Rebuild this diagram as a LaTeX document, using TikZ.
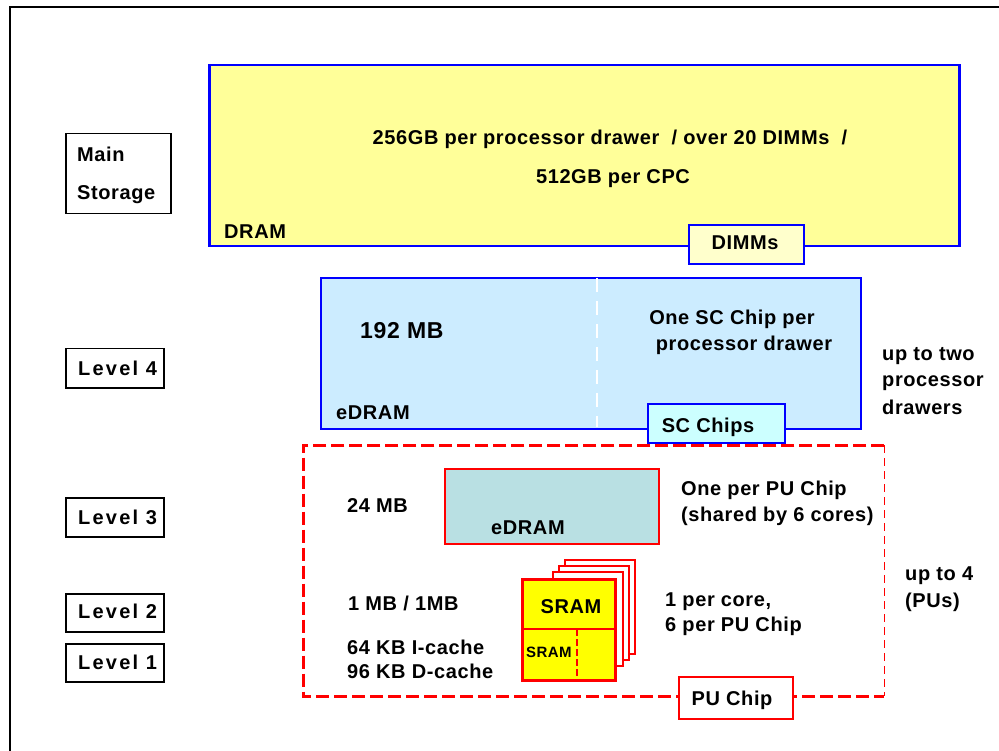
\documentclass[tikz,border=0pt]{standalone}
\usepackage{fontspec}
\setmainfont{Liberation Sans}
\newfontfamily\lsfont{Liberation Sans}[LetterSpace=3]
\newfontfamily\lvfont{Liberation Sans}[LetterSpace=11]
\definecolor{dramfill}{RGB}{255,255,153}
\definecolor{dimmfill}{RGB}{255,255,204}
\definecolor{lfourfill}{RGB}{204,236,255}
\definecolor{scfill}{RGB}{204,255,255}
\definecolor{lthreefill}{RGB}{185,224,227}
\definecolor{sramfill}{RGB}{255,255,0}
\definecolor{bblue}{RGB}{0,0,255}
\definecolor{rred}{RGB}{255,0,0}
\tikzset{
  txt/.style={inner sep=0pt, font=\lsfont\fontsize{20}{24}\selectfont\bfseries},
  lvtxt/.style={inner sep=0pt, font=\lvfont\fontsize{20}{24}\selectfont\bfseries},
  lbl/.style={draw=black, line width=1.5pt, fill=white, inner sep=0pt, anchor=north west},
  bluebox/.style={draw=bblue, line width=2pt, inner sep=0pt, anchor=north west},
  redbox/.style={draw=rred, line width=2pt, inner sep=0pt, anchor=north west},
  page/.style={draw=rred, line width=2pt, fill=white, inner sep=0pt, anchor=north west, minimum width=70pt, minimum height=94pt},
  reddash/.style={draw=rred, line width=3pt, dash pattern=on 13pt off 5pt},
  redthin/.style={draw=rred, line width=1.5pt, dash pattern=on 8pt off 5pt},
}
\begin{document}
\begin{tikzpicture}[x=1pt,y=-1pt]
\useasboundingbox (0,0) rectangle (999,751);
% outer frame
\coordinate (fbl) at (10,751);
\coordinate (ftl) at (10,7);
\coordinate (ftr) at (999,7);
\draw[line width=2pt] (fbl) -- (ftl) -- (ftr);

% left labels
\node[lbl, minimum width=105pt, minimum height=80pt] (ms) at (65,133) {};
\node[lbl, minimum width=98pt, minimum height=39pt] (lv4) at (65,348) {};
\node[lbl, minimum width=98pt, minimum height=39pt] (lv3) at (65,497) {};
\node[lbl, minimum width=98pt, minimum height=38pt] (lv2) at (65,593) {};
\node[lbl, minimum width=98pt, minimum height=38pt] (lv1) at (65,643) {};
\node[txt, anchor=base west] (tmain) at (77,162) {Main};
\node[txt, anchor=base west] (tstor) at (77,200) {Storage};
\node[lvtxt, anchor=base west] (tl4) at (78,375) {Level 4};
\node[lvtxt, anchor=base west] (tl3) at (78,524) {Level 3};
\node[lvtxt, anchor=base west] (tl2) at (78,618) {Level 2};
\node[lvtxt, anchor=base west] (tl1) at (78,669) {Level 1};

% DRAM
\node[bluebox, fill=dramfill, line width=2.5pt, minimum width=750pt, minimum height=181pt] (dram) at (208,64) {};
\node[bluebox, fill=dimmfill, minimum width=115pt, minimum height=39pt] (dimm) at (688,224) {};
\node[txt, anchor=base] (t256) at (610,145) {256GB per processor drawer\ \ / over 20 DIMMs\ \ /};
\node[txt, anchor=base] (t512) at (613,184) {512GB per CPC};
\node[txt, anchor=base west] (tdram) at (224,239) {DRAM};
\node[txt, anchor=base] (tdimm) at (745,250) {DIMMs};

% Level 4
\node[bluebox, fill=lfourfill, minimum width=540pt, minimum height=151pt] (l4) at (320,277) {};
\coordinate (divtop) at (597,278);
\coordinate (divbot) at (597,427);
\draw[white, line width=2pt, dash pattern=on 14pt off 9pt] (divtop) -- (divbot);
\node[bluebox, fill=scfill, minimum width=137pt, minimum height=39pt] (sc) at (647,403) {};
\node[txt, font=\lsfont\fontsize{23}{27}\selectfont\bfseries, anchor=base west] (t192) at (360,338) {192 MB};
\node[txt, anchor=base] (tone) at (732,325) {One SC Chip per};
\node[txt, anchor=base] (tproc) at (744,351) {processor drawer};
\node[txt, anchor=base west] (tedram4) at (336,419) {eDRAM};
\node[txt, anchor=base] (tsc) at (708,432) {SC Chips};
\node[txt, anchor=base west] (tup2a) at (882,361) {up to two};
\node[txt, anchor=base west] (tup2b) at (882,387) {processor};
\node[txt, anchor=base west] (tup2c) at (882,414) {drawers};

% PU chip region
\node[inner sep=0pt, minimum width=581pt, minimum height=251pt, anchor=north west] (pu) at (303,445) {};
\draw[reddash] (pu.north east) -- (pu.north west) -- (pu.south west) -- (pu.south east);
\draw[redthin] (pu.north east) -- (pu.south east);
\node[redbox, fill=white, minimum width=114pt, minimum height=42pt] (puchip) at (678,676) {};
\node[txt, anchor=base] (tpuchip) at (732,705) {PU Chip};

% Level 3
\node[redbox, fill=lthreefill, minimum width=214pt, minimum height=75pt] (l3) at (444,468) {};
\node[txt, anchor=base west] (t24) at (347,512) {24 MB};
\node[txt, anchor=base west] (tedram3) at (491,534) {eDRAM};
\node[txt, anchor=base west] (tonepu) at (681,495) {One per PU Chip};
\node[txt, anchor=base west] (tshared) at (681,521) {(shared by 6 cores)};
\node[txt, anchor=base west] (tup4) at (905,580) {up to 4};
\node[txt, anchor=base west] (tpus) at (905,607) {(PUs)};

% SRAM stack
\node[page] (p3) at (564,559) {};
\node[page] (p2) at (558,565) {};
\node[page] (p1) at (552,571) {};
\node[redbox, fill=sramfill, line width=2.5pt, minimum width=93pt, minimum height=101pt] (sram) at (521,578) {};
\coordinate (hl) at (521,629);
\coordinate (hr) at (614,629);
\draw[rred, line width=2pt] (hl) -- (hr);
\coordinate (vt) at (577,629);
\coordinate (vb) at (577,678);
\draw[rred, line width=2pt, dash pattern=on 7pt off 3pt] (vt) -- (vb);
\node[txt, anchor=base] (tsram) at (571,613) {SRAM};
\node[txt, font=\lsfont\fontsize{15}{18}\selectfont\bfseries, anchor=base] (tsram1) at (549,657) {SRAM};
\node[txt, anchor=base west] (t1mb) at (348,610) {1 MB / 1MB};
\node[txt, anchor=base west] (t64) at (347,654) {64 KB I-cache};
\node[txt, anchor=base west] (t96) at (347,678) {96 KB D-cache};
\node[txt, anchor=base west] (tcore) at (665,606) {1 per core,};
\node[txt, anchor=base west] (t6per) at (665,631) {6 per PU Chip};
\end{tikzpicture}
\end{document}
